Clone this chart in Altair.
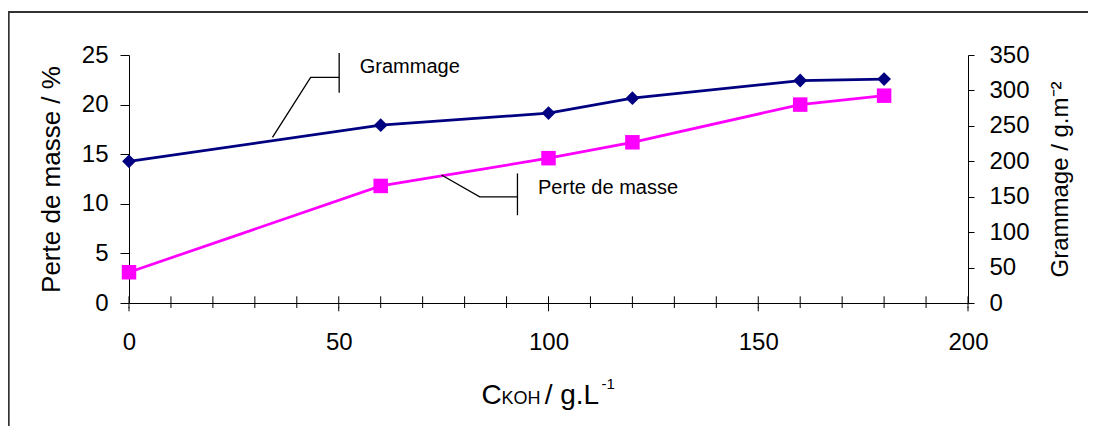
import altair as alt
import pandas as pd

FONT = "Liberation Sans"

# ---- data ----
koh = [0, 60, 100, 120, 160, 180]
perte = [3.1, 11.8, 14.6, 16.2, 20.0, 20.9]
grammage = [200, 251, 268, 289, 314, 316]

x_ticks = list(range(0, 201, 10))
x_major = [0, 50, 100, 150, 200]
left_ticks = [0, 5, 10, 15, 20, 25]
right_ticks = [0, 50, 100, 150, 200, 250, 300, 350]

# callout annotations (in data units of x and the left axis)
gram_text = ["Grammage"]
gram_text_x = [55.0]
gram_text_y = [23.8]
gram_call_x = [34.2, 43.3, 50.1]
gram_call_y = [16.7, 22.75, 22.75]
gram_bar_x = [50.1]
gram_bar_y = [25.2]
gram_bar_y2 = [21.2]

perte_text = ["Perte de masse"]
perte_text_x = [97.5]
perte_text_y = [11.55]
perte_call_x = [74.5, 83.6, 92.6]
perte_call_y = [12.9, 10.7, 10.7]
perte_bar_x = [92.6]
perte_bar_y = [13.06]
perte_bar_y2 = [8.85]

W, H = 839, 248

df = pd.DataFrame({"koh": koh, "perte": perte, "grammage": grammage})

xscale = alt.Scale(domain=[0, 200], nice=False, zero=False)
lscale = alt.Scale(domain=[0, 25], nice=False)
rscale = alt.Scale(domain=[0, 350], nice=False)

xaxis = alt.Axis(
    values=x_ticks, ticks=False, grid=False, title=None,
    labelExpr="datum.value % 50 == 0 ? datum.label : ''",
    labelFont=FONT, labelFontSize=24, labelColor="black", labelPadding=27,
    labelFlush=False, labelOverlap=False, labelBound=False,
    domainColor="black", domainWidth=1,
)

laxis = alt.Axis(
    values=left_ticks, grid=False, tickSize=9, tickColor="black", tickWidth=1,
    domainColor="black", domainWidth=1,
    labelFont=FONT, labelFontSize=24, labelColor="black", labelPadding=12,
    labelFlush=False,
    title="Perte de masse / %", titleFont=FONT, titleFontSize=26,
    titleFontWeight="normal", titleColor="black",
    titleAngle=270, titleX=-77.6, titleY=H / 2, titleAlign="center",
    titleBaseline="middle",
)

raxis = alt.Axis(
    orient="right", values=right_ticks, grid=False, tickSize=6, tickColor="black",
    tickWidth=1, domainColor="black", domainWidth=1,
    labelFont=FONT, labelFontSize=24, labelColor="black", labelPadding=15,
    labelFlush=False,
    title="Grammage / g.m⁻²", titleFont=FONT, titleFontSize=24,
    titleFontWeight="normal", titleColor="black",
    titleAngle=270, titleX=92, titleY=H / 2, titleAlign="center",
    titleBaseline="middle",
)


def X(field):
    return alt.X(field, type="quantitative", scale=xscale, axis=xaxis)


def YL(field):
    return alt.Y(field, type="quantitative", scale=lscale, axis=laxis)


def YR(field):
    return alt.Y(field, type="quantitative", scale=rscale, axis=raxis)


base = alt.Chart(df)

perte_line = base.mark_line(color="#FF00FF", strokeWidth=2.75).encode(
    x=X("koh"), y=YL("perte"))
perte_pts = base.mark_point(shape="square", filled=True, size=210, color="#FF00FF", opacity=1).encode(
    x=X("koh"), y=YL("perte"))

# x-axis tick marks crossing the axis line
minor_ticks = alt.Chart(pd.DataFrame({"t": x_ticks})).mark_rule(color="black", strokeWidth=1).encode(
    x=X("t"), y=alt.value(H - 6.7), y2=alt.value(H + 5))
major_ticks = alt.Chart(pd.DataFrame({"t": x_major})).mark_rule(color="black", strokeWidth=1).encode(
    x=X("t"), y=alt.value(H + 4), y2=alt.value(H + 8.3))


def callout(cx, cy, bx, by, by2, tx, ty, txt):
    line = alt.Chart(pd.DataFrame({"x": cx, "y": cy, "o": list(range(len(cx)))})).mark_line(
        color="black", strokeWidth=1.3).encode(x=X("x"), y=YL("y"), order="o:Q")
    bar = alt.Chart(pd.DataFrame({"x": bx, "y": by, "y2": by2})).mark_rule(
        color="black", strokeWidth=1.3).encode(x=X("x"), y=YL("y"), y2="y2:Q")
    text = alt.Chart(pd.DataFrame({"x": tx, "y": ty, "t": txt})).mark_text(
        font=FONT, fontSize=20, color="black", align="left", baseline="middle").encode(
        x=X("x"), y=YL("y"), text="t:N")
    return [line, bar, text]


one = pd.DataFrame({"a": [0]})


def label(txt, x, y, size):
    return alt.Chart(one).mark_text(
        text=txt, font=FONT, fontSize=size, color="black", align="left",
        baseline="alphabetic").encode(x=alt.value(x), y=alt.value(y))


xtitle = [
    label("C", 352.4, 349.3, 28),
    label("KOH", 372.6, 349.3, 18),
    label("/ g.L", 415.7, 349.3, 28),
    label("-1", 472.4, 333.5, 15),
]

# outer frame (top and left edges)
frame_top = alt.Chart(one).mark_rule(color="#333333", strokeWidth=2).encode(
    x=alt.value(-120.3), x2=alt.value(970), y=alt.value(-43))
frame_left = alt.Chart(one).mark_rule(color="#333333", strokeWidth=2).encode(
    x=alt.value(-120.3), y=alt.value(-44), y2=alt.value(380))

left = alt.layer(
    perte_line, perte_pts, minor_ticks, major_ticks,
    *callout(gram_call_x, gram_call_y, gram_bar_x, gram_bar_y, gram_bar_y2,
             gram_text_x, gram_text_y, gram_text),
    *callout(perte_call_x, perte_call_y, perte_bar_x, perte_bar_y, perte_bar_y2,
             perte_text_x, perte_text_y, perte_text),
    *xtitle, frame_top, frame_left,
)

gram_line = base.mark_line(color="#000080", strokeWidth=2.75).encode(
    x=X("koh"), y=YR("grammage"))
gram_pts = base.mark_point(shape="diamond", filled=True, size=190, color="#000080", opacity=1).encode(
    x=X("koh"), y=YR("grammage"))
right = alt.layer(gram_line, gram_pts)

chart = alt.layer(left, right).resolve_scale(y="independent").properties(
    width=W, height=H,
    padding={"left": 121, "top": 47, "right": 120, "bottom": 123},
    autosize=alt.AutoSizeParams(type="none"),
    background="white",
).configure_view(stroke=None)

chart.save("out.html", embed_options={"renderer": "svg", "actions": False})
